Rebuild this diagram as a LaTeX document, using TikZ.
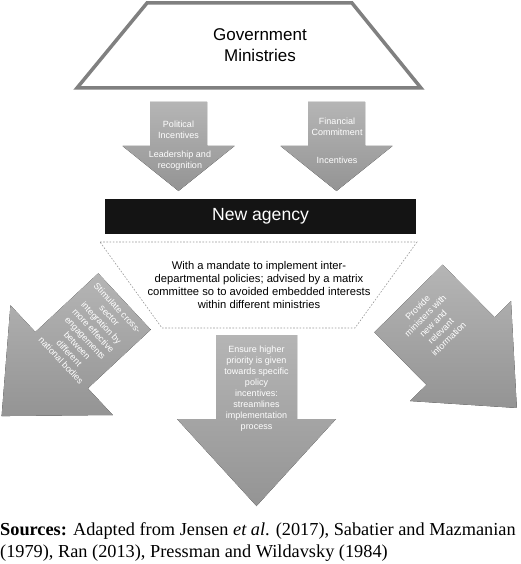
\documentclass[tikz,border=0pt]{standalone}
\usepackage{fontspec}
\setmainfont{Liberation Serif}
\setsansfont{Liberation Sans}
\usetikzlibrary{positioning}

\begin{document}
\begin{tikzpicture}[
    x=1pt, y=1pt,
    ministry/.style={
        draw=black!50,
        line width=3.5pt,
        fill=white
    },
    bigtext/.style={
        font=\sffamily\fontsize{17}{21}\selectfont,
        align=center
    },
    agency/.style={
        fill=black!92,
        text=white,
        font=\sffamily\fontsize{17.6}{21}\selectfont,
        minimum width=311pt,
        minimum height=35pt,
        inner sep=0pt
    },
    mandate/.style={
        draw=black!40,
        dash pattern=on 1.6pt off 1.6pt,
        line width=0.6pt
    },
    mandatetext/.style={
        font=\sffamily\fontsize{11.2}{13.3}\selectfont,
        align=center
    },
    arrowtext/.style={
        text=white,
        font=\sffamily\fontsize{9}{11}\selectfont,
        align=center,
        inner sep=0pt
    },
    pics/blockarrow/.style n args={4}{code={
        \fill[top color=black!29, bottom color=black!42]
            (-#1/2,0) -- (#1/2,0) -- (#1/2,-#2) -- (#3/2,-#2)
            -- (0,-#2-#4) -- (-#3/2,-#2) -- (-#1/2,-#2) -- cycle;
    }},
    source/.style={
        anchor=base west,
        inner sep=0pt,
        font=\fontsize{18.3}{22}\selectfont
    }
]
\useasboundingbox (0,0) rectangle (520,-564);

% ministries on top
\draw[ministry] (147,-3) -- (352,-3) -- (421,-88) -- (77,-88) -- cycle;
\node[bigtext] (gov) at (260,-45) {Government\\Ministries};

% the two inputs
\pic at (178.5,-102) {blockarrow={57}{44}{112}{45}};
\pic at (336.5,-102) {blockarrow={57}{44}{112}{45}};
\node[arrowtext] (political) at (178.5,-129.5) {Political\\Incentives};
\node[arrowtext] (leader) at (180,-160.5) {Leadership and\\recognition};
\node[arrowtext] (financial) at (337,-126.5) {Financial\\Commitment};
\node[arrowtext] (incent) at (337,-160) {Incentives};

% agency and its mandate
\node[agency] (agency) at (260.5,-216.5) {New agency};
\draw[mandate] (100,-242) -- (417,-242) -- (355,-328) -- (162,-328) -- cycle;
\node[mandatetext] (mandate) at (259,-285)
{With a mandate to implement inter-\\departmental policies; advised by a matrix\\committee so to avoided embedded interests\\within different ministries};

% outputs
\begin{scope}[shift={(124.5,-301.5)}, rotate=-47]
    \pic[transform shape] {blockarrow={77}{86}{150}{82}};
    \node[arrowtext, rotate=-47] (stimulate) at (0,-48)
    {Stimulate cross-\\sector\\integration by\\more effective\\engagements\\between\\different\\national bodies};
\end{scope}

\begin{scope}[shift={(256.5,-335)}]
    \pic {blockarrow={81}{84}{159}{87}};
    \node[arrowtext] (priority) at (0,-54)
    {Ensure higher\\priority is given\\towards specific\\policy\\incentives:\\streamlines\\implementation\\process};
\end{scope}

\begin{scope}[shift={(408.5,-298.5)}, rotate=44.7]
    \pic[transform shape] {blockarrow={96}{74}{142}{80}};
    \node[arrowtext, rotate=44.7] (provide) at (0,-35)
    {Provide\\ministers with\\new and\\relevant\\information};
\end{scope}

% sources
\node[source] (sources) at (0,-535)
{\textbf{Sources:} Adapted from Jensen \textit{et al}. (2017), Sabatier and Mazmanian};
\node[source] (sources2) at (0,-557)
{(1979), Ran (2013), Pressman and Wildavsky (1984)};

\end{tikzpicture}
\end{document}
